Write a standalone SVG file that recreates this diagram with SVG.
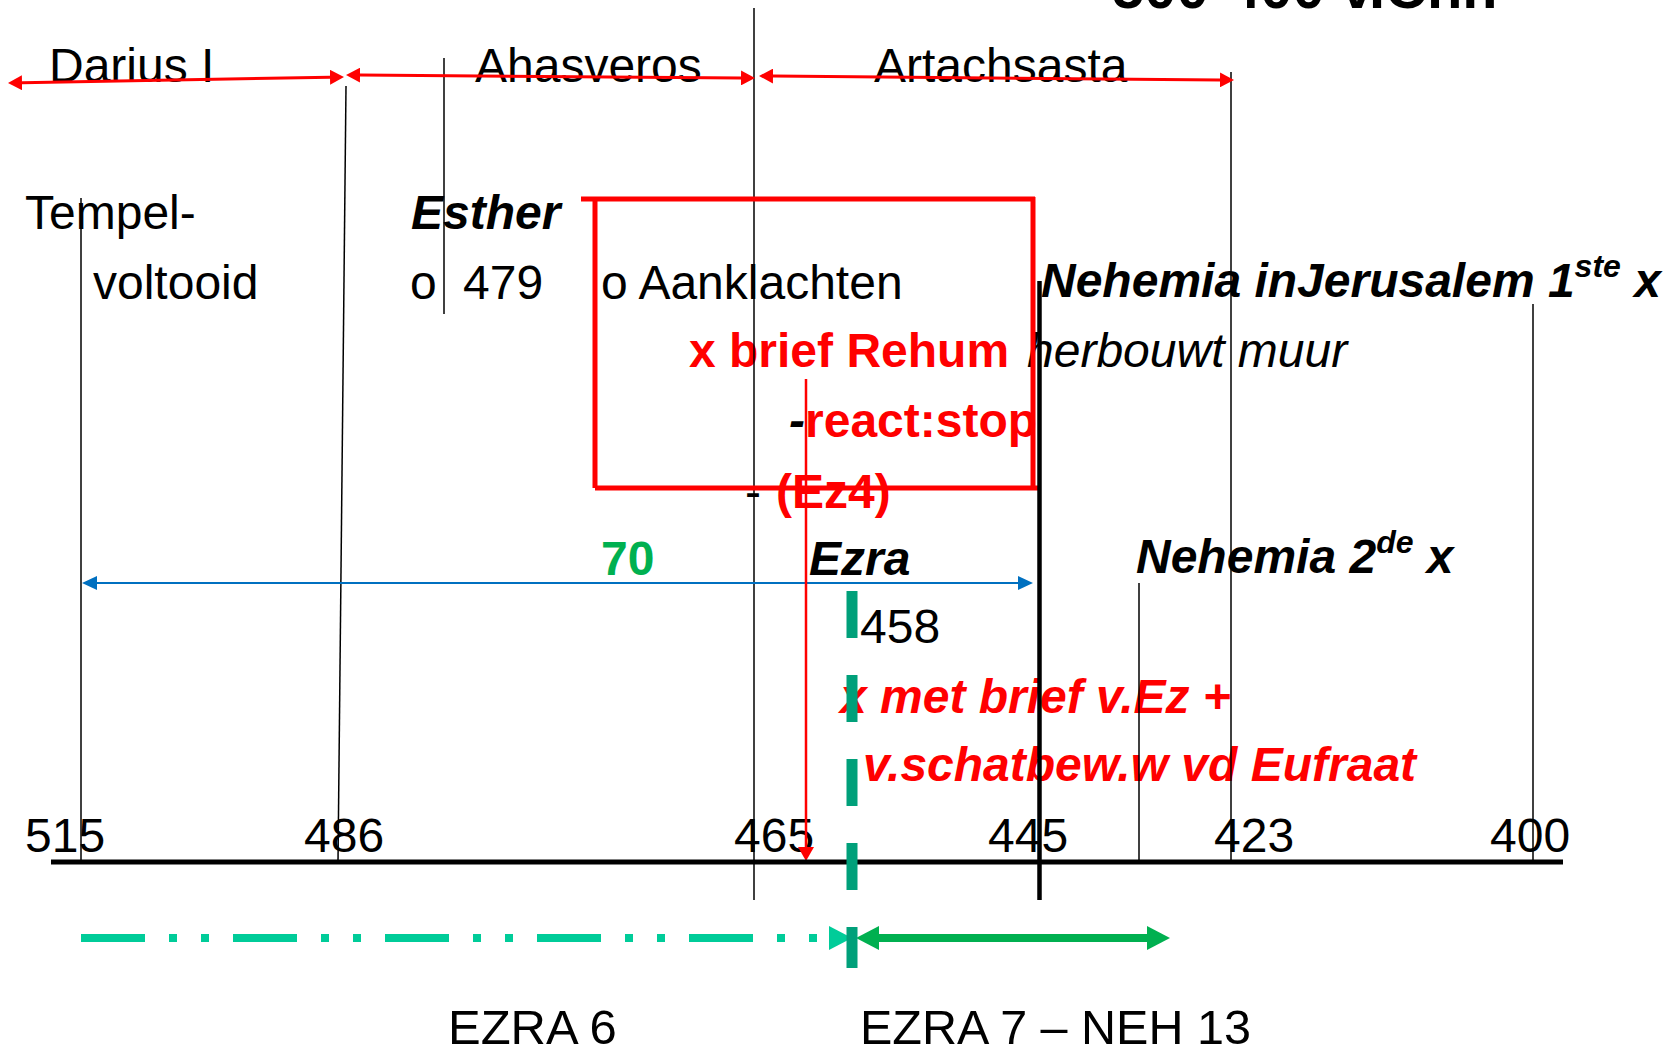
<svg xmlns="http://www.w3.org/2000/svg" width="1679" height="1046" viewBox="0 0 1679 1046">
<defs>
<style>
text{font-family:"Liberation Sans",Arial,sans-serif;font-size:48px;fill:#000}
.b{font-weight:bold}
.i{font-style:italic}
.red{fill:#FF0000}
.thin{stroke:#000;stroke-width:1.5;fill:none}
.reign{stroke:#FF0000;stroke-width:3;fill:none}
.box{stroke:#FF0000;stroke-width:5;fill:none}
</style>
<marker id="hRed" viewBox="0 0 14 15" refX="0" refY="7.5" markerWidth="14" markerHeight="15" markerUnits="userSpaceOnUse" orient="auto-start-reverse"><path d="M0,0 L14,7.5 L0,15 z" fill="#FF0000"/></marker>
<marker id="hRedDown" viewBox="0 0 14 16" refX="0" refY="8" markerWidth="14" markerHeight="16" markerUnits="userSpaceOnUse" orient="auto"><path d="M0,0 L14,8 L0,16 z" fill="#FF0000"/></marker>
<marker id="hBlue" viewBox="0 0 15 14" refX="0" refY="7" markerWidth="15" markerHeight="14" markerUnits="userSpaceOnUse" orient="auto-start-reverse"><path d="M0,0 L15,7 L0,14 z" fill="#0070C0"/></marker>
<marker id="hTeal" viewBox="0 0 23 24" refX="0" refY="12" markerWidth="23" markerHeight="24" markerUnits="userSpaceOnUse" orient="auto"><path d="M0,0 L23,12 L0,24 z" fill="#00CC99"/></marker>
<marker id="hGreen" viewBox="0 0 23 24" refX="0" refY="12" markerWidth="23" markerHeight="24" markerUnits="userSpaceOnUse" orient="auto-start-reverse"><path d="M0,0 L23,12 L0,24 z" fill="#00B050"/></marker>
</defs>
<rect width="1679" height="1046" fill="#fff"/>

<g id="title"><text class="b" x="1112" y="8" style="font-size:58px">500-400 v.Chr.</text></g>

<g id="labels-top">
<text x="49" y="82">Darius I</text>
<text x="475" y="82">Ahasveros</text>
<text x="874" y="82">Artachsasta</text>
</g>

<g id="node-tempel"><text x="25" y="229">Tempel-</text><text x="93" y="299">voltooid</text></g>
<g id="node-esther"><text class="b i" x="411" y="229">Esther</text><text x="410" y="299">o</text><text x="463" y="299">479</text></g>
<g id="node-aanklachten">
<text x="601" y="299">o Aanklachten</text>
<text class="b red" x="689" y="367">x brief Rehum</text>
<text class="b i" x="789" y="437">-</text><text class="b red" x="805" y="437">react:stop</text>
<text x="745" y="508">-</text><text class="b red" x="776" y="508">(Ez4)</text>
</g>
<g id="node-nehemia1">
<text class="b i" x="1041" y="297">Nehemia inJerusalem 1<tspan style="font-size:32px" dy="-20">ste</tspan><tspan dy="20"> x</tspan></text>
<text class="i" x="1027" y="367">herbouwt muur</text>
</g>
<g id="node-70"><text class="b" x="601" y="575" style="fill:#00B050">70</text></g>
<g id="node-ezra">
<text class="b i" x="809" y="575">Ezra</text>
<text x="860" y="643">458</text>
<text class="b i red" x="840" y="713">x met brief v.Ez +</text>
<text class="b i red" x="863" y="781">v.schatbew.w vd Eufraat</text>
</g>
<g id="node-nehemia2"><text class="b i" x="1136" y="573">Nehemia 2<tspan style="font-size:32px" dy="-20">de</tspan><tspan dy="20"> x</tspan></text></g>

<g id="ticks">
<text x="25" y="852">515</text>
<text x="304" y="852">486</text>
<text x="734" y="852">465</text>
<text x="988" y="852">445</text>
<text x="1214" y="852">423</text>
<text x="1490" y="852">400</text>
</g>

<g id="labels-bottom">
<text x="448" y="1044" style="font-size:49px">EZRA 6</text>
<text x="860" y="1044" style="font-size:48.5px">EZRA 7 – NEH 13</text>
</g>

<g id="connectors">
<line class="thin" x1="81" y1="198" x2="81" y2="862"/>
<line class="thin" x1="346" y1="86" x2="338" y2="862"/>
<line class="thin" x1="444" y1="58" x2="444" y2="314"/>
<line class="thin" x1="754" y1="8" x2="754" y2="900"/>
<line class="thin" x1="1231" y1="72" x2="1231" y2="862"/>
<line class="thin" x1="1139" y1="583" x2="1139" y2="862"/>
<line class="thin" x1="1533" y1="304" x2="1533" y2="862"/>

<line class="reign" x1="22" y1="82.75" x2="330" y2="77.25" marker-start="url(#hRed)" marker-end="url(#hRed)"/>
<line class="reign" x1="360" y1="75.1" x2="741" y2="77.9" marker-start="url(#hRed)" marker-end="url(#hRed)"/>
<line class="reign" x1="773" y1="76.1" x2="1220" y2="79.9" marker-start="url(#hRed)" marker-end="url(#hRed)"/>

<line class="box" x1="581" y1="199" x2="1035" y2="199"/>
<line class="box" x1="595" y1="197" x2="595" y2="488"/>
<line class="box" x1="1033" y1="197" x2="1033" y2="486"/>
<line class="box" x1="595" y1="488" x2="1039" y2="488"/>

<line x1="1039.5" y1="281" x2="1039.5" y2="900" stroke="#000" stroke-width="4.5"/>

<line x1="97" y1="583" x2="1018" y2="583" stroke="#0070C0" stroke-width="2" marker-start="url(#hBlue)" marker-end="url(#hBlue)"/>

<line x1="806" y1="379" x2="806" y2="847" stroke="#FF0000" stroke-width="2.5" marker-end="url(#hRedDown)"/>

<line x1="51" y1="862" x2="1563" y2="862" stroke="#000" stroke-width="5"/>

<line x1="81" y1="938" x2="829" y2="938" stroke="#00CC99" stroke-width="8" stroke-dasharray="64 24 8 24 8 24" marker-end="url(#hTeal)"/>
<line x1="879" y1="938" x2="1147" y2="938" stroke="#00B050" stroke-width="8" marker-start="url(#hGreen)" marker-end="url(#hGreen)"/>

<line x1="852" y1="591" x2="852" y2="968" stroke="#00A07A" stroke-width="11" stroke-dasharray="47 37"/>
</g>
</svg>
